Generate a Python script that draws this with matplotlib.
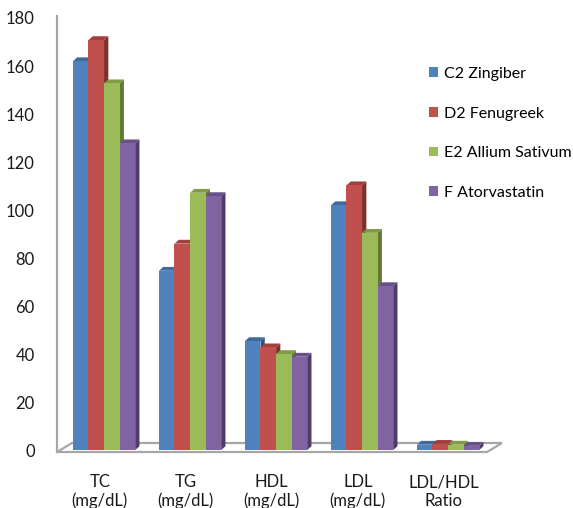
import numpy as np
import matplotlib
matplotlib.use('Agg')
import matplotlib.pyplot as plt
from matplotlib.patches import Polygon

plt.rcParams['font.family'] = ['Lato', 'DejaVu Sans']

# 血脂指标 / 各组均值
categories = ['TC\n(mg/dL)', 'TG\n(mg/dL)', 'HDL\n(mg/dL)', 'LDL\n(mg/dL)', 'LDL/HDL\nRatio']
groups = ['C2 Zingiber', 'D2 Fenugreek', 'E2 Allium Sativum', 'F Atorvastatin']
c2_zingiber = [162, 74.7, 45.4, 102, 2.25]
d2_fenugreek = [170.8, 86, 42.8, 110.3, 2.58]
e2_allium = [152.8, 107.2, 40, 90.5, 2.26]
f_atorvastatin = [127.8, 105.8, 38.9, 68.3, 1.76]
series = [c2_zingiber, d2_fenugreek, e2_allium, f_atorvastatin]

front = ['#4F81BD', '#C0504D', '#9BBB59', '#8064A2']
top = ['#3E6A9E', '#A13F3C', '#7F9C45', '#68508A']
side = ['#2F5280', '#7E2F2D', '#627A33', '#4F3C6B']

W = 0.181          # bar width
DX, DY = 0.05, 1.6  # bar depth
FDX, FDY = 0.174, 3.75  # floor depth

fig = plt.figure(figsize=(5.73, 5.08), dpi=100)
ax = fig.add_axes([57 / 573, 56 / 508, 443 / 573, 434 / 508])
ax.set_xlim(-0.547, 4.604)
ax.set_ylim(-0.8, 180)

# floor
x0, x1, yf = -0.547, 4.453, -0.8
floor = Polygon([[x0, yf], [x1, yf], [x1 + FDX, yf + FDY], [x0 + FDX, yf + FDY]],
                closed=True, facecolor='white', edgecolor='#A6A6A6', lw=1.6,
                zorder=1, clip_on=False)
ax.add_patch(floor)

x = np.arange(len(categories))
z = 2
for i in range(len(categories)):
    for j, vals in enumerate(series):
        left = x[i] - 2 * W + j * W
        h = vals[i]
        ax.add_patch(Polygon([[left + W, 0], [left + W + DX, DY],
                              [left + W + DX, h + DY], [left + W, h]],
                             closed=True, facecolor=side[j], lw=0, zorder=z))
        ax.add_patch(Polygon([[left, h], [left + W, h],
                              [left + W + DX, h + DY], [left + DX, h + DY]],
                             closed=True, facecolor=top[j], lw=0, zorder=z))
        ax.bar(left, h, width=W, align='edge', color=front[j], lw=0, zorder=z + 1,
               label=groups[j] if i == 0 else None)
        z += 2

for s in ax.spines.values():
    s.set_visible(False)
ax.plot([0, 0], [0, 1.0035], transform=ax.transAxes, color='#A6A6A6', lw=1.6,
        clip_on=False, zorder=1)

ax.set_yticks(np.arange(0, 181, 20))
ax.tick_params(axis='y', length=0, pad=16, labelsize=12, labelcolor='#1a1a1a')
ax.set_xticks(x - 0.05)
ax.set_xticklabels(categories, linespacing=1.2)
ax.tick_params(axis='x', length=0, pad=16, labelsize=12, labelcolor='#1a1a1a')

handles, labels = ax.get_legend_handles_labels()
fig.legend(handles, labels, loc='upper left', bbox_to_anchor=(421 / 573, 1 - 59 / 508),
           frameon=False, fontsize=11.5, labelspacing=1.6, handlelength=0.57,
           handleheight=0.57, handletextpad=0.35, borderpad=0)

fig.savefig('out.png', dpi=100)
